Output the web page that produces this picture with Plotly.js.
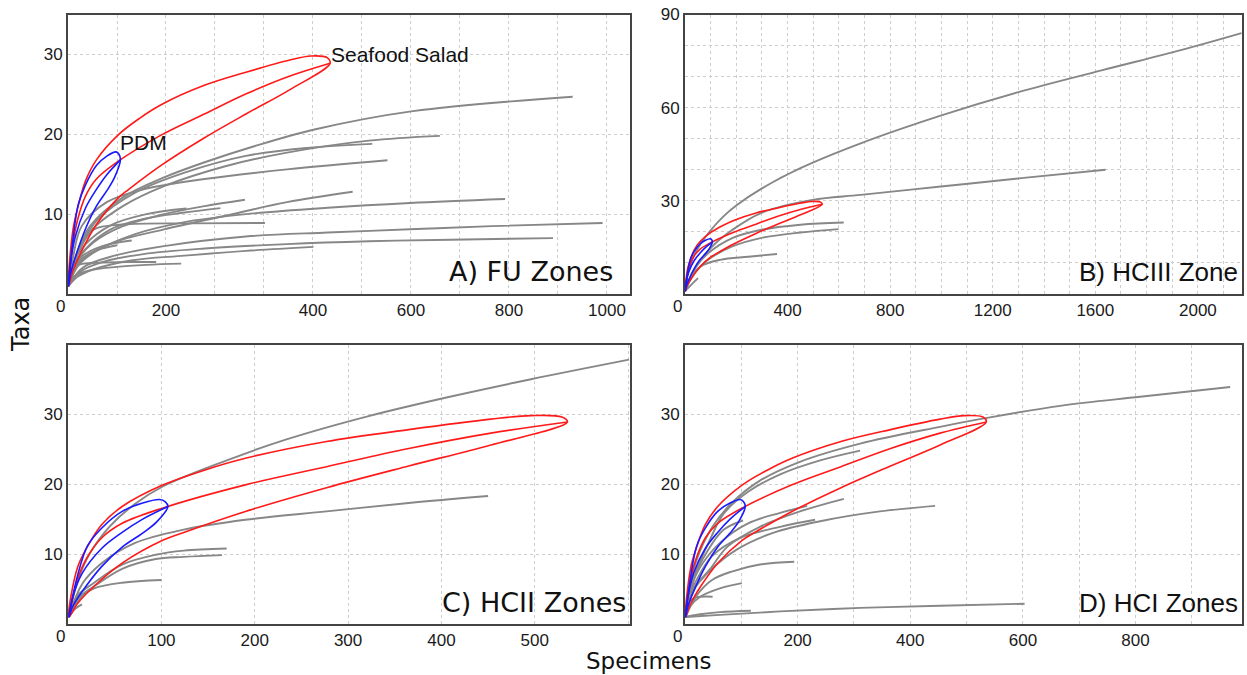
<!DOCTYPE html>
<html>
<head>
<meta charset="utf-8">
<script src="https://cdn.plot.ly/plotly-3.0.1.min.js"></script>
<style>
html,body{margin:0;padding:0;background:#fff;}
#chart{width:1247px;height:675px;}
</style>
</head>
<body>
<div id="chart"></div>
<script>
// ---------- Seafood Salad (same sample shown in every panel) ----------
const seafoodUpperX = [1, 10, 21, 36, 58, 102, 146, 190, 277, 365, 453, 496, 529];
const seafoodUpperY = [1, 8.0, 11.1, 14.2, 16.8, 19.9, 22.0, 23.7, 26.1, 27.8, 29.3, 29.8, 29.6];
const seafoodTipX = 535, seafoodTipY = 28.9;
const seafoodMeanX = [1, 10, 20, 36, 58, 102, 190, 277, 365, 453, 535];
const seafoodMeanY = [1, 6.3, 9.4, 12.3, 14.4, 16.6, 19.9, 22.5, 25.1, 27.3, 28.9];
const seafoodLowerX = [1, 10, 28, 58, 102, 124, 190, 277, 365, 453];
const seafoodLowerY = [1, 2.9, 5.4, 8.7, 12.0, 13.1, 16.1, 19.5, 22.6, 25.6];

// ---------- PDM ----------
const pdmUpperX = [1, 10, 21, 36, 58, 80, 98, 104];
const pdmUpperY = [1, 6.8, 11.2, 13.7, 16.1, 17.3, 17.8, 17.5];
const pdmTipX = 107, pdmTipY = 16.8;
const pdmMeanX = [1, 5, 15, 36, 58, 80, 107];
const pdmMeanY = [1, 3.8, 7.2, 10.8, 13.1, 15.0, 16.8];
const pdmLowerX = [1, 5, 15, 36, 58, 80, 95];
const pdmLowerY = [1, 2.5, 4.6, 8.2, 11.0, 13.0, 14.6];

// ---------- A) FU Zones ----------
const fuCurvesX = [
  [1, 20, 45, 112, 196, 279, 380, 503, 704, 1030],
  [1, 20, 45, 112, 196, 321, 447, 614, 759],
  [1, 25, 62, 137, 238, 363, 489, 621],
  [1, 10, 28, 79, 154, 279, 447, 652],
  [1, 10, 28, 95, 196, 321, 447, 581],
  [1, 20, 53, 137, 238, 363, 530, 698, 892],
  [1, 20, 53, 112, 196, 279, 361],
  [1, 15, 35, 87, 154, 238, 311],
  [1, 10, 28, 53, 112, 250, 402],
  [1, 30, 95, 196, 363, 530, 698, 865, 1091],
  [1, 25, 70, 154, 279, 447, 614, 781, 990],
  [1, 20, 53, 129, 238, 363, 501],
  [1, 10, 40, 100, 160, 231],
  [1, 8, 25, 60, 120, 180],
  [1, 10, 28, 70, 130],
  [1, 12, 35, 87, 160, 242],
  [1, 10, 30, 60, 100]
];
const fuCurvesY = [
  [1, 5.5, 8.5, 12.1, 14.6, 16.5, 18.5, 20.6, 22.9, 24.7],
  [1, 5.0, 7.8, 11.0, 13.5, 16.0, 17.7, 19.2, 19.8],
  [1, 6.0, 9.4, 12.7, 15.2, 17.3, 18.3, 18.8],
  [1, 4.5, 8.5, 11.5, 13.1, 14.4, 15.6, 16.75],
  [1, 2.8, 4.3, 6.5, 8.1, 9.8, 11.5, 12.8],
  [1, 3.5, 5.2, 7.5, 9.0, 10.0, 10.8, 11.4, 11.9],
  [1, 4.3, 6.5, 8.5, 10.0, 11.0, 11.8],
  [1, 3.8, 5.6, 8.1, 9.4, 10.2, 10.75],
  [1, 3.5, 6.1, 8.1, 8.7, 8.85, 8.9],
  [1, 3.3, 4.8, 6.0, 7.2, 7.7, 8.1, 8.5, 8.9],
  [1, 2.8, 4.0, 5.0, 5.7, 6.25, 6.6, 6.8, 7.0],
  [1, 2.2, 3.1, 4.2, 4.8, 5.4, 5.9],
  [1, 2.1, 2.9, 3.4, 3.65, 3.8],
  [1, 3.0, 3.7, 3.9, 4.0, 4.0],
  [1, 3.3, 4.7, 6.0, 6.7],
  [1, 4.0, 6.2, 8.6, 10.0, 10.7],
  [1, 3.0, 4.5, 5.5, 6.1]
];
const fuTickVals = [200, 500, 700, 900, 1100];
const fuTickText = ["200", "400", "600", "800", "1000"];
const fuYTicks = [10, 20, 30];

// ---------- B) HCIII Zone ----------
const hc3CurvesX = [
  [1, 10, 27, 60, 100, 150, 200, 300, 450, 685, 1000, 1300, 1624, 1937, 2170],
  [1, 43, 106, 184, 294, 497, 685, 998, 1311, 1640],
  [1, 15, 43, 90, 184, 294, 450, 619],
  [1, 27, 90, 184, 294, 450, 599],
  [1, 16, 59, 137, 247, 359],
  [1, 27, 51]
];
const hc3CurvesY = [
  [1, 6.5, 11, 16, 20.5, 25, 28.5, 34, 40.5, 48.5, 57.5, 65, 72, 78.6, 84],
  [1, 8.8, 15.3, 20.6, 26.0, 30.3, 31.9, 34.6, 37.3, 40.0],
  [1, 4.5, 8.8, 13.1, 18.0, 20.6, 22.3, 23.0],
  [1, 5.5, 11.0, 15.3, 18.0, 19.8, 20.9],
  [1, 4.5, 8.8, 11.0, 12.0, 12.9],
  [1, 3.2, 5.1]
];
const hc3XTicks = [400, 800, 1200, 1600, 2000];
const hc3YTicks = [30, 60, 90];

// ---------- C) HCII Zones ----------
const hc2CurvesX = [
  [1, 10, 23, 45, 72, 102, 168, 234, 321, 409, 496, 601],
  [1, 15, 36, 72, 124, 190, 277, 365, 450],
  [1, 10, 28, 58, 94, 124, 170],
  [1, 10, 28, 58, 94, 124, 165],
  [1, 15, 28, 58, 100],
  [1, 8, 15]
];
const hc2CurvesY = [
  [1, 6.0, 10.0, 14.0, 17.2, 19.7, 23.3, 26.4, 29.7, 32.5, 35.0, 37.8],
  [1, 5.7, 8.7, 11.6, 13.5, 14.9, 16.1, 17.3, 18.3],
  [1, 4.0, 5.9, 8.5, 9.9, 10.5, 10.8],
  [1, 3.6, 5.4, 7.9, 9.3, 9.6, 9.85],
  [1, 4.0, 5.1, 5.9, 6.3],
  [1, 2.2, 2.8]
];
const hc2XTicks = [100, 200, 300, 400, 500];
const hc2YTicks = [10, 20, 30];

// ---------- D) HCI Zones ----------
const hc1CurvesX = [
  [1, 20, 48, 83, 133, 204, 311, 453, 531, 666, 808, 968],
  [1, 20, 44, 69, 112, 169, 240, 311],
  [1, 15, 44, 76, 133, 204, 282],
  [1, 10, 26, 62, 112, 169, 217],
  [1, 8, 20, 48, 98, 169, 231],
  [1, 15, 44, 91, 155, 240, 346, 444],
  [1, 10, 41, 69, 103],
  [1, 20, 48, 83, 133, 194],
  [1, 10, 27, 62, 101],
  [1, 8, 20, 49],
  [1, 62, 169, 311, 453, 603],
  [1, 27, 62, 117]
];
const hc1CurvesY = [
  [1, 9.0, 13.8, 17.3, 20.5, 23.2, 25.8, 28.2, 29.4, 31.2, 32.5, 33.9],
  [1, 7.5, 12.0, 15.8, 18.9, 21.4, 23.4, 24.8],
  [1, 5.0, 7.8, 11.1, 13.9, 16.1, 17.9],
  [1, 5.0, 8.0, 11.6, 14.4, 15.9, 16.9],
  [1, 4.0, 6.2, 9.7, 12.3, 13.9, 14.9],
  [1, 4.8, 7.6, 10.6, 13.0, 14.7, 16.1, 16.9],
  [1, 5.5, 10.6, 13.5, 14.8],
  [1, 4.0, 6.3, 7.5, 8.5, 8.9],
  [1, 2.6, 3.9, 5.1, 5.85],
  [1, 3.2, 3.8, 3.9],
  [1, 1.3, 1.8, 2.3, 2.6, 2.9],
  [1, 1.4, 1.7, 1.9]
];
const hc1XTicks = [200, 400, 600, 800];
const hc1YTicks = [10, 20, 30];

const panelLabels = ["A) FU Zones", "B) HCIII Zone", "C) HCII Zones", "D) HCI Zones"];

// ---------- build ----------
const W = 1247, H = 675;
const GRAY = '#878787', RED = '#ff1a1a', BLUE = '#1a1aff';
const traces = [];

function loop(upX, upY, tipX, tipY, loX, loY) {
  const x = upX.concat([tipX], loX.slice().reverse());
  const y = upY.concat([tipY], loY.slice().reverse());
  return {x, y};
}
function addPanel(cx, cy, ax) {
  const xa = 'x' + ax, ya = 'y' + ax;
  for (let i = 0; i < cx.length; i++) {
    traces.push({x: cx[i], y: cy[i], xaxis: xa, yaxis: ya, mode: 'lines',
      line: {color: GRAY, width: 1.9, shape: 'spline', smoothing: 1}, hoverinfo: 'skip', showlegend: false});
  }
  const s = loop(seafoodUpperX, seafoodUpperY, seafoodTipX, seafoodTipY, seafoodLowerX, seafoodLowerY);
  traces.push({x: s.x, y: s.y, xaxis: xa, yaxis: ya, mode: 'lines',
    line: {color: RED, width: 1.6, shape: 'spline', smoothing: 1}, showlegend: false, hoverinfo: 'skip'});
  traces.push({x: seafoodMeanX, y: seafoodMeanY, xaxis: xa, yaxis: ya, mode: 'lines',
    line: {color: RED, width: 1.6, shape: 'spline', smoothing: 1}, showlegend: false, hoverinfo: 'skip'});
  const p = loop(pdmUpperX, pdmUpperY, pdmTipX, pdmTipY, pdmLowerX, pdmLowerY);
  traces.push({x: p.x, y: p.y, xaxis: xa, yaxis: ya, mode: 'lines',
    line: {color: BLUE, width: 1.6, shape: 'spline', smoothing: 1}, showlegend: false, hoverinfo: 'skip'});
  traces.push({x: pdmMeanX, y: pdmMeanY, xaxis: xa, yaxis: ya, mode: 'lines',
    line: {color: BLUE, width: 1.6, shape: 'spline', smoothing: 1}, showlegend: false, hoverinfo: 'skip'});
}
addPanel(fuCurvesX, fuCurvesY, '');
addPanel(hc3CurvesX, hc3CurvesY, '2');
addPanel(hc2CurvesX, hc2CurvesY, '3');
addPanel(hc1CurvesX, hc1CurvesY, '4');

const colL = [68 / W, 630 / W], colR = [685 / W, 1242 / W];
const rowT = [1 - 294 / H, 1 - 14.5 / H], rowB = [1 - 624 / H, 1 - 345 / H];
const TICKFONT = {family: 'Liberation Sans, Arial, sans-serif', size: 17, color: '#1a1a1a'};
const GRID = '#cdcdcd';

function xAx(domain, anchor, range, tv, tt, minorDt) {
  return {domain, anchor, range, tickmode: 'array', tickvals: tv, ticktext: tt || tv.map(String),
    showgrid: true, gridcolor: GRID, griddash: 'dot', gridwidth: 1,
    minor: {tickmode: 'linear', tick0: 0, dtick: minorDt, showgrid: true, gridcolor: GRID, griddash: 'dot', gridwidth: 1, ticks: ''},
    showline: true, mirror: true, linecolor: '#444', linewidth: 2, zeroline: false, ticks: '',
    tickfont: TICKFONT, fixedrange: true};
}
function yAx(domain, anchor, range, tv, minorDt) {
  const a = {domain, anchor, range, tickmode: 'array', tickvals: tv, ticktext: tv.map(String),
    showgrid: true, gridcolor: GRID, griddash: 'dot', gridwidth: 1,
    showline: true, mirror: true, linecolor: '#444', linewidth: 2, zeroline: false, ticks: '',
    tickfont: TICKFONT, fixedrange: true};
  if (minorDt) a.minor = {tickmode: 'linear', tick0: 0, dtick: minorDt, showgrid: true, gridcolor: GRID, griddash: 'dot', gridwidth: 1, ticks: ''};
  return a;
}

const LABELFONTS = [
  {family: 'DejaVu Sans, sans-serif', size: 27, color: '#111'},
  {family: 'Liberation Sans, Arial, sans-serif', size: 26, color: '#111'},
  {family: 'DejaVu Sans, sans-serif', size: 27, color: '#111'},
  {family: 'Liberation Sans, Arial, sans-serif', size: 26, color: '#111'}
];
const annotations = [];
['', '2', '3', '4'].forEach((ax, i) => {
  annotations.push({xref: 'x' + ax, yref: 'y' + ax, x: 0, y: 0, text: '0', showarrow: false,
    xanchor: 'center', yanchor: 'top', xshift: -8, yshift: -1, font: TICKFONT});
  annotations.push({xref: 'x' + ax + ' domain', yref: 'y' + ax + ' domain', x: 1, y: 0, text: panelLabels[i],
    showarrow: false, xanchor: 'right', yanchor: 'bottom', xshift: i === 0 ? -15 : -2, yshift: i < 2 ? 5 : 4, font: LABELFONTS[i]});
});
const NOTEFONT = {family: 'Liberation Sans, Arial, sans-serif', size: 21, color: '#111'};
annotations.push({xref: 'x', yref: 'y', x: seafoodTipX, y: 30, text: 'Seafood Salad',
  showarrow: false, xanchor: 'left', yanchor: 'middle', xshift: -1, yshift: 0, font: NOTEFONT});
annotations.push({xref: 'x', yref: 'y', x: pdmTipX, y: 19, text: 'PDM',
  showarrow: false, xanchor: 'left', yanchor: 'middle', xshift: -2, yshift: 0, font: NOTEFONT});
annotations.push({xref: 'paper', yref: 'paper', x: 649 / W, y: 1 - 661 / H, text: 'Specimens', showarrow: false,
  xanchor: 'center', yanchor: 'middle', font: {family: 'DejaVu Sans, sans-serif', size: 23, color: '#111'}});
annotations.push({xref: 'paper', yref: 'paper', x: 21 / W, y: 1 - 325 / H, text: 'Taxa', showarrow: false, textangle: -90,
  xanchor: 'center', yanchor: 'middle', font: {family: 'DejaVu Sans, sans-serif', size: 24, color: '#111'}});

const layout = {
  width: W, height: H, margin: {l: 0, r: 0, t: 0, b: 0},
  paper_bgcolor: '#fff', plot_bgcolor: '#fff', showlegend: false,
  xaxis: xAx(colL, 'y', [0, 1147], fuTickVals, fuTickText, 100),
  yaxis: yAx(rowT, 'x', [0, 35], fuYTicks),
  xaxis2: xAx(colR, 'y2', [0, 2172], hc3XTicks, null, 100),
  yaxis2: yAx(rowT, 'x2', [0, 90], hc3YTicks, 10),
  xaxis3: xAx(colL, 'y3', [0, 602], hc2XTicks, null, 100),
  yaxis3: yAx(rowB, 'x3', [0, 39.9], hc2YTicks),
  xaxis4: xAx(colR, 'y4', [0, 989], hc1XTicks, null, 100),
  yaxis4: yAx(rowB, 'x4', [0, 39.9], hc1YTicks),
  annotations
};
Plotly.newPlot('chart', traces, layout, {staticPlot: true, displayModeBar: false});
</script>
</body>
</html>
